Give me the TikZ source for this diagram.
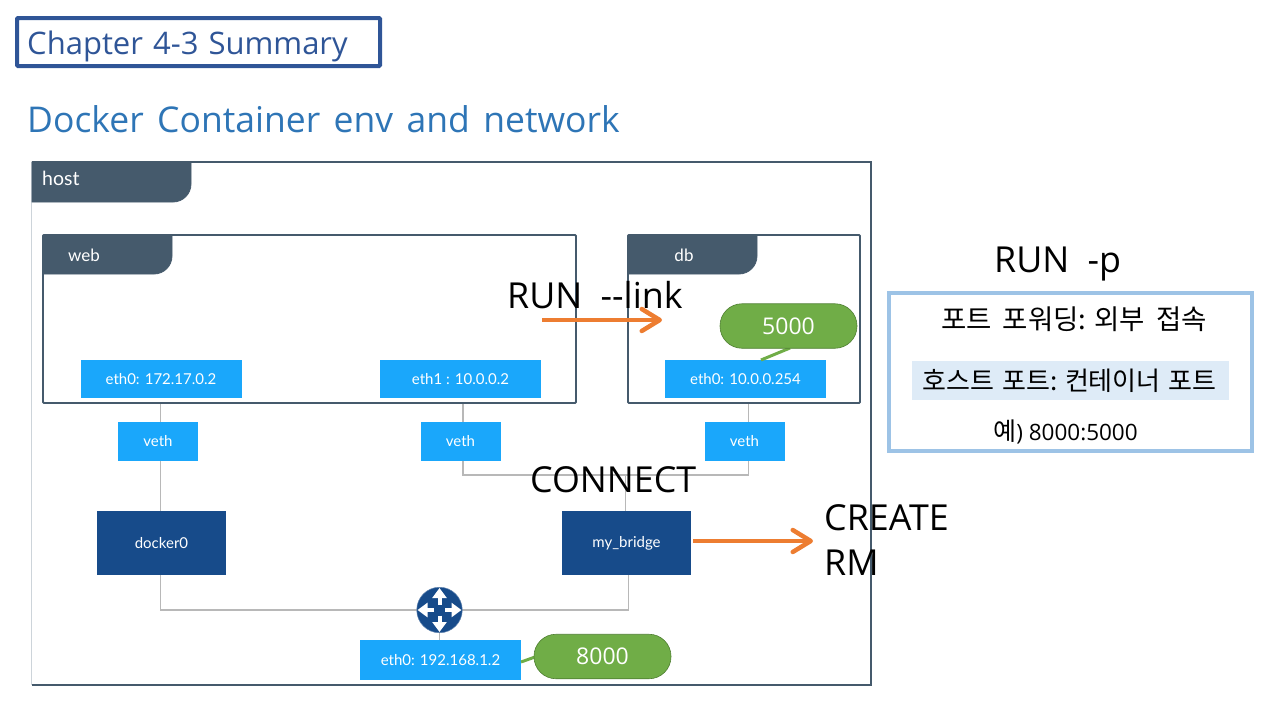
\documentclass[tikz,border=0pt]{standalone}
\usepackage{fontspec}
\setmainfont{Open Sans}
\newfontfamily\kr{Noto Sans CJK KR}
\newfontfamily\lato{Lato}
\usetikzlibrary{arrows.meta,backgrounds,positioning}
\definecolor{slate}{HTML}{455A6C}
\definecolor{cyanbox}{HTML}{1AA7FB}
\definecolor{navybox}{HTML}{174B8A}
\definecolor{wire}{HTML}{B8B8B8}
\definecolor{orng}{HTML}{ED7D31}
\definecolor{grn}{HTML}{70AD47}
\definecolor{grnd}{HTML}{4F7F32}
\definecolor{paleblue}{HTML}{9DC3E6}
\definecolor{hl}{HTML}{DEEBF7}
\tikzset{
  x=1pt,y=-1pt,
  frame/.style={draw=slate,line width=1.8pt},
  tabfill/.style={fill=slate,draw=slate,line width=0.8pt},
  tablabel/.style={text=white,inner sep=0pt,font=\lato\fontsize{17}{20}\selectfont},
  ethbox/.style={fill=cyanbox,text=white,inner sep=0pt,minimum width=161pt,minimum height=38pt,font=\lato\fontsize{15}{17}\selectfont},
  vethbox/.style={fill=cyanbox,text=white,inner sep=0pt,minimum width=80pt,minimum height=39pt,font=\lato\fontsize{15}{17}\selectfont},
  bridgebox/.style={fill=navybox,text=white,inner sep=0pt,minimum width=129pt,minimum height=64pt,font=\lato\fontsize{15}{17}\selectfont},
  pill/.style={fill=grn,draw=grnd,line width=0.6pt,rounded corners=22pt,text=white,inner sep=0pt,minimum width=137pt,minimum height=44.5pt,font=\fontsize{23}{26}\selectfont},
  wireline/.style={draw=wire,line width=1.4pt},
  tailline/.style={draw=grn,line width=3pt},
  action/.style={anchor=base west,inner sep=0pt,text=black,font=\fontsize{35.8}{40}\selectfont},
  bigarrow/.style={draw=orng,line width=4.5pt,-{Straight Barb[length=18pt,width=22pt,round]}},
  krtext/.style={inner sep=0pt,text=black,font=\kr\fontsize{26}{30}\selectfont},
}
\begin{document}
\begin{tikzpicture}
\useasboundingbox (0,0) rectangle (1280,720);
% title
\node[draw={rgb,255:red,47;green,85;blue,151},line width=4pt,rounded corners=1pt,minimum width=363pt,minimum height=48pt,inner sep=0pt] (titlebox) at (198.5,42) {};
\node[anchor=base west,inner sep=0pt,text={rgb,255:red,47;green,85;blue,151},font=\fontsize{31}{34}\selectfont] (titletext) at (27,54) {Chapter\hspace{2pt} 4-3\hspace{2pt} Summary};
\node[anchor=base west,inner sep=0pt,text={rgb,255:red,46;green,117;blue,182},font=\fontsize{35.5}{40}\selectfont] (heading) at (27,132) {Docker\hspace{4.2pt} Container\hspace{4.2pt} env\hspace{4.2pt} and\hspace{4.2pt} network};
% host frame
\node[minimum width=839pt,minimum height=523pt,inner sep=0pt] (host) at (451.5,423.5) {};
\draw[draw={rgb,255:red,205;green,212;blue,218},line width=1.2pt] (host.north west) -- (host.south west);
\draw[frame] (host.north west) -- (host.north east) -- (host.south east) -- (host.south west);
\fill[tabfill] (32,162) -- (191,162) -- (191,184) arc[start angle=0,end angle=90,radius=18] -- (32,202) -- cycle;
\node[tablabel,anchor=base west,font=\lato\fontsize{19.5}{22}\selectfont] (hostlabel) at (42,185) {host};
% web
\node[frame,minimum width=533pt,minimum height=168pt,inner sep=0pt,rounded corners=1pt] (web) at (309.5,319) {};
\fill[tabfill] (43,235) -- (172,235) -- (172,256) arc[start angle=0,end angle=90,radius=18] -- (43,274) -- cycle;
\node[tablabel] (weblabel) at (84,255) {web};
% db
\node[frame,minimum width=232pt,minimum height=168pt,inner sep=0pt,rounded corners=1pt] (db) at (744,319) {};
\fill[tabfill] (628,235) -- (757,235) -- (757,256) arc[start angle=0,end angle=90,radius=18] -- (628,274) -- cycle;
\node[tablabel] (dblabel) at (684,255) {db};
% interfaces
\node[ethbox] (ethA) at (161,379) {eth0: 172.17.0.2};
\node[ethbox] (ethB) at (460.5,379) {eth1 : 10.0.0.2};
\node[ethbox] (ethC) at (745.5,379) {eth0: 10.0.0.254};
\node[vethbox] (vethA) at (158,441.5) {veth};
\node[vethbox] (vethB) at (460.5,441.5) {veth};
\node[vethbox] (vethC) at (744.5,441.5) {veth};
\node[bridgebox] (docker) at (161.5,543) {docker0};
\node[bridgebox] (bridge) at (626.5,543) {my\_bridge};
\node[ethbox,minimum height=39.5pt] (ethH) at (440.5,659.75) {eth0: 192.168.1.2};
% router
\node[circle,fill=navybox,draw=navybox!70!white,line width=0.5pt,minimum size=45.5pt,inner sep=0pt] (router) at (439.5,610) {};
\foreach \dx/\dy in {1/0,-1/0,0/1,0/-1}{
  \draw[white,line width=4pt,-{Triangle[length=10pt,width=14pt]}]
    ([xshift=5.5*\dx pt,yshift=-5.5*\dy pt]router.center) -- ([xshift=22*\dx pt,yshift=-22*\dy pt]router.center);
}
% wires
\begin{scope}[on background layer]
  \coordinate (jB) at (463,475);
  \coordinate (jC) at (748.5,475);
  \coordinate (jM) at (625.7,475);
  \coordinate (jL) at (160.5,610);
  \coordinate (jR) at (628.5,610);
  \draw[wireline] (docker.north -| jL) -- (web.south -| jL);
  \draw[wireline] (web.south -| jB) -- (jB) -- (jC) -- (db.south -| jC);
  \draw[wireline] (jM) -- (bridge.north -| jM);
  \draw[wireline] (docker.south -| jL) -- (jL) -- (jR) -- (bridge.south -| jR);
  \draw[wireline] (router.south) -- (ethH.north -| router.south);
\end{scope}
% port pills
\coordinate (tailA) at (761,360);
\coordinate (tailB) at (521,662);
\draw[tailline] (tailA) -- (790,348);
\draw[tailline] (tailB) -- (535,657);
\node[pill] (pA) at (788.5,326) {5000};
\node[pill] (pB) at (602.5,656.5) {8000};
% actions
\node[action] (runlink) at (507,308) {RUN\hspace{9pt} -{}-link};
\coordinate (linkstart) at (542,320);
\coordinate (linkend) at (662,320);
\draw[bigarrow] (linkstart) -- (linkend);
\node[action] (connect) at (530,492) {CONNECT};
\coordinate (createend) at (813,541);
\draw[bigarrow] (bridge.east |- createend) ++(2,0) -- (createend);
\node[action] (create) at (824,530) {CREATE};
\node[action] (rm) at (824,575) {RM};
\node[action] (runp) at (994,272) {RUN\hspace{9pt} -p};
% info panel
\node[draw=paleblue,line width=4pt,minimum width=363pt,minimum height=158pt,inner sep=0pt] (panel) at (1070.5,372) {};
\node[fill=hl,minimum width=317pt,minimum height=39pt,inner sep=0pt] (hlbox) at (1070.5,380.5) {};
\node[krtext,font=\kr\fontsize{27.5}{30}\selectfont] (l1) at (1074,319) {포트\hspace{5pt} 포워딩: 외부\hspace{5pt} 접속};
\node[krtext] (l2) at (1069.5,381) {호스트\hspace{2pt} 포트: 컨테이너\hspace{2pt} 포트};
\node[inner sep=0pt,text=black,font=\fontsize{22.5}{26}\selectfont,anchor=base] (l3) at (1065.5,440) {{\kr\fontsize{25}{26}\selectfont 예}) 8000:5000};
\end{tikzpicture}
\end{document}
